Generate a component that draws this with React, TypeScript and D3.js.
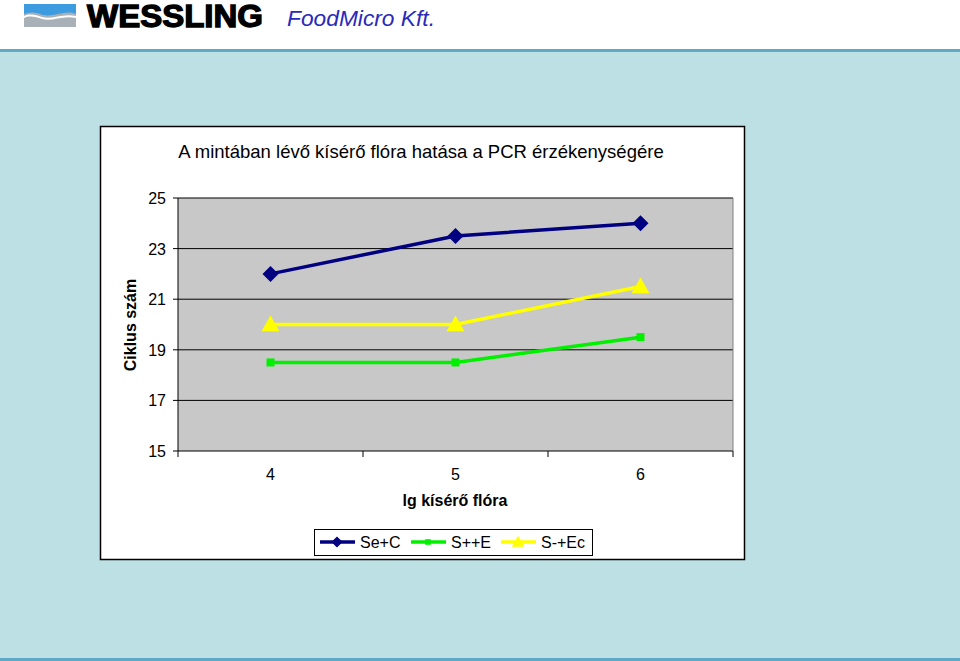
import * as d3 from "d3";

const categories = ["4", "5", "6"];
const yTicks = [15, 17, 19, 21, 23, 25];
const seC = [22, 23.5, 24];
const sppE = [18.5, 18.5, 19.5];
const smpEc = [20, 20, 21.5];

const series = [
  { name: "Se+C", values: seC, color: "#000080", marker: "diamond" },
  { name: "S++E", values: sppE, color: "#00F000", marker: "square" },
  { name: "S-+Ec", values: smpEc, color: "#FFFF00", marker: "triangle" },
];

const W = 960;
const H = 661;
const plot = { left: 178, right: 733, top: 198, bottom: 451 };

const x = d3.scaleBand<string>().domain(categories).range([plot.left, plot.right]);
const y = d3.scaleLinear().domain([15, 25]).range([plot.bottom, plot.top]);

function marker(kind: string, cx: number, cy: number, color: string, s = 1) {
  if (kind === "diamond") {
    const r = 8 * s;
    return <path d={`M${cx},${cy - r}L${cx + r},${cy}L${cx},${cy + r}L${cx - r},${cy}Z`} fill={color} />;
  }
  if (kind === "square") {
    const r = 4 * s;
    return <rect x={cx - r} y={cy - r} width={2 * r} height={2 * r} fill={color} />;
  }
  const r = 9 * s;
  return <path d={`M${cx},${cy - r}L${cx + r},${cy + r * 0.75}L${cx - r},${cy + r * 0.75}Z`} fill={color} />;
}

export default function App() {
  const line = d3.line<number>()
    .x((_, i) => x(categories[i])! + x.bandwidth() / 2)
    .y(d => y(d));

  const font = "Arial, 'Liberation Sans', sans-serif";

  return (
    <div style={{ position: "fixed", left: 0, top: 0 }}>
      <svg width={W} height={H} style={{ display: "block", fontFamily: font }}>
        <rect x={0} y={0} width={W} height={H} fill="#BDE0E4" />
        <rect x={0} y={0} width={W} height={50} fill="#FFFFFF" />
        <rect x={0} y={49} width={W} height={3} fill="#5FA8C6" />
        <rect x={0} y={658} width={W} height={3} fill="#5FA8C6" />

        {/* logo */}
        <rect x={24} y={4} width={52} height={23} fill="#A9B1B8" />
        <path d="M24,4H76V14C64,9 52,19 40,14C34,12 29,12 24,14Z" fill="#3D9BE0" />
        <path d="M24,16C30,13 36,15 42,17C52,20 62,13 76,16V18C62,15 52,22 42,19C36,17 30,15 24,18Z" fill="#FFFFFF" />
        <text x={87} y={27} fontSize={31} fontWeight={900} fill="#000" stroke="#000" strokeWidth={1.3} textLength={176} lengthAdjust="spacingAndGlyphs">WESSLING</text>
        <text x={287} y={26} fontSize={22} fontStyle="italic" fill="#2A2ABA" textLength={148} lengthAdjust="spacingAndGlyphs">FoodMicro Kft.</text>

        {/* chart box */}
        <rect x={100.5} y={126.5} width={644} height={433} fill="#FFFFFF" stroke="#000" strokeWidth={1.5} />
        <text x={421} y={158} fontSize={18.5} textAnchor="middle">A mintában lévő kísérő flóra hatása a PCR érzékenységére</text>

        <rect x={plot.left} y={plot.top} width={plot.right - plot.left} height={plot.bottom - plot.top} fill="#C8C8C8" />
        {yTicks.map(t => (
          <g key={t}>
            <line x1={plot.left} x2={plot.right} y1={y(t)} y2={y(t)} stroke="#000" strokeWidth={1} />
            <line x1={plot.left - 5} x2={plot.left} y1={y(t)} y2={y(t)} stroke="#000" />
            <text x={166} y={y(t) + 6} fontSize={16} textAnchor="end">{t}</text>
          </g>
        ))}
        <line x1={plot.left} x2={plot.left} y1={plot.top} y2={plot.bottom} stroke="#000" />
        <line x1={plot.right} x2={plot.right} y1={plot.top} y2={plot.bottom} stroke="#808080" />
        {[...categories.map(c => x(c)!), plot.right].map((p, i) => (
          <line key={i} x1={p} x2={p} y1={plot.bottom} y2={plot.bottom + 6} stroke="#000" />
        ))}
        {categories.map(c => (
          <text key={c} x={x(c)! + x.bandwidth() / 2} y={480} fontSize={16} textAnchor="middle">{c}</text>
        ))}
        <text x={455} y={506} fontSize={16} fontWeight="bold" textAnchor="middle">lg kísérő flóra</text>
        <text transform="translate(136,325) rotate(-90)" fontSize={16} fontWeight="bold" textAnchor="middle">Ciklus szám</text>

        {series.map(s => (
          <g key={s.name}>
            <path d={line(s.values)!} fill="none" stroke={s.color} strokeWidth={3.5} />
            {s.values.map((v, i) => (
              <g key={i}>{marker(s.marker, x(categories[i])! + x.bandwidth() / 2, y(v), s.color)}</g>
            ))}
          </g>
        ))}

        {/* legend */}
        <rect x={314.5} y={529.5} width={278} height={26} fill="#FFFFFF" stroke="#000" />
        {series.map((s, i) => {
          const lx = [320, 411, 501][i];
          return (
            <g key={s.name}>
              <line x1={lx} x2={lx + 35} y1={542} y2={542} stroke={s.color} strokeWidth={3.5} />
              {marker(s.marker, lx + 17, 542, s.color, 0.7)}
              <text x={lx + 40} y={548} fontSize={16}>{s.name}</text>
            </g>
          );
        })}
      </svg>
    </div>
  );
}
